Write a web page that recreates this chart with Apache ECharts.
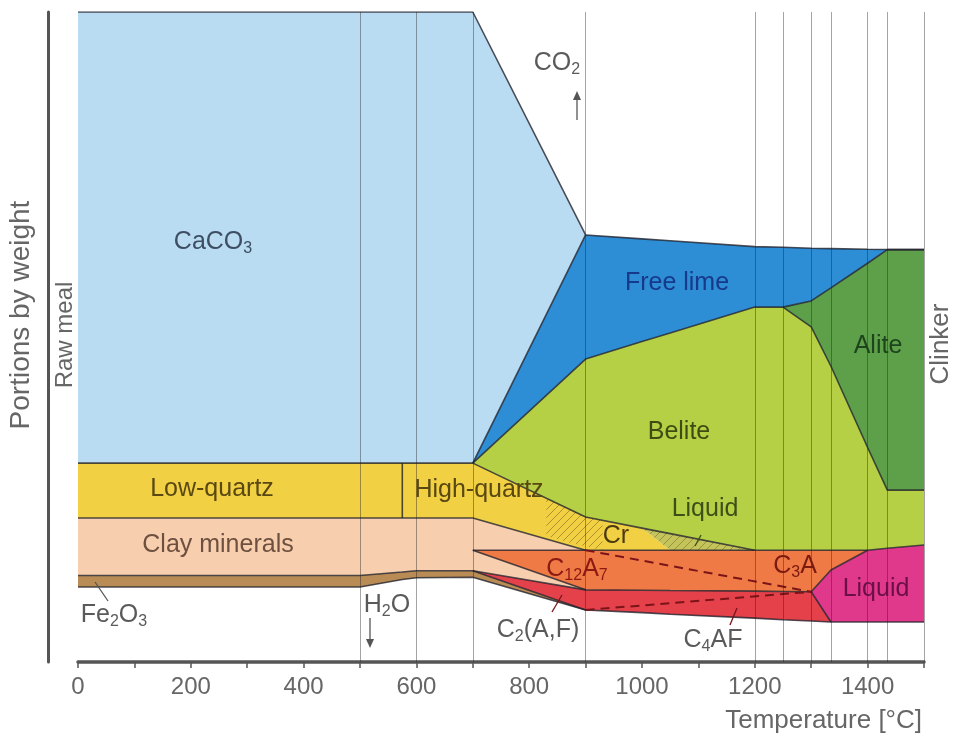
<!DOCTYPE html>
<html><head><meta charset="utf-8">
<script src="https://cdn.jsdelivr.net/npm/echarts@6/dist/echarts.min.js"></script>
<style>html,body{margin:0;padding:0;background:#fff}#c{width:957px;height:737px}</style>
</head><body><div id="c"></div>
<script>
// Temperature breakpoints (°C)
const temps = [0, 500, 575, 600, 700, 900, 1000, 1050, 1200, 1250, 1300, 1335, 1400, 1435, 1500];
// Upper boundary of each phase layer (portion scale 0..100), listed bottom -> top
const bBase      = [11.55, 11.55, 12.7, 12.95, 13.05, 8.0, 7.6, 7.35, 6.75, 6.5, 6.3, 6.15, 6.15, 6.15, 6.15];
const bFe2O3     = [13.3, 13.3, 13.85, 14.05, 14.05, 8.0, 7.6, 7.35, 6.75, 6.5, 6.3, 6.15, 6.15, 6.15, 6.15];
const bC4AF      = [13.3, 13.3, 13.85, 14.05, 14.05, 11.1, 11.05, 11.0, 10.9, 10.85, 10.8, 6.15, 6.15, 6.15, 6.15];
const bLiquidHot = [13.3, 13.3, 13.85, 14.05, 14.05, 11.1, 11.05, 11.0, 10.9, 10.85, 10.8, 14.15, 17.2, 17.5, 18.0];
const bClayLow   = [17.2, 17.2, 17.2, 17.2, 17.2, 11.1, 11.05, 11.0, 10.9, 10.85, 10.8, 14.15, 17.2, 17.5, 18.0];
const bC3A       = [17.2, 17.2, 17.2, 17.2, 17.2, 17.2, 17.2, 17.2, 17.2, 17.2, 17.2, 17.2, 17.2, 17.5, 18.0];
const bClay      = [22.15, 22.15, 22.15, 22.15, 22.15, 17.2, 17.2, 17.2, 17.2, 17.2, 17.2, 17.2, 17.2, 17.5, 18.0];
const bQuartz    = [30.6, 30.6, 30.6, 30.6, 30.6, 22.3, 20.6, 17.2, 17.2, 17.2, 17.2, 17.2, 17.2, 17.5, 18.0];
const bLiquidCr  = [30.6, 30.6, 30.6, 30.6, 30.6, 22.3, 20.6, 19.75, 17.2, 17.2, 17.2, 17.2, 17.2, 17.5, 18.0];
const bBelite    = [30.6, 30.6, 30.6, 30.6, 30.6, 46.6, 49.3, 50.6, 54.6, 54.6, 51.55, 45.5, 33.0, 26.45, 26.45];
const bAlite     = [30.6, 30.6, 30.6, 30.6, 30.6, 46.6, 49.3, 50.6, 54.6, 54.6, 55.55, 57.55, 61.35, 63.45, 63.45];
const bFreeLime  = [30.6, 30.6, 30.6, 30.6, 30.6, 65.7, 65.1, 64.8, 63.9, 63.8, 63.65, 63.6, 63.5, 63.45, 63.45];
const bCaCO3     = [100, 100, 100, 100, 100, 65.7, 65.1, 64.8, 63.9, 63.8, 63.65, 63.6, 63.5, 63.45, 63.45];
// Hatched cristobalite transition zone (temperatures, lower/upper boundaries)
const crHatchTemps = [830, 870, 930];
const crHatchLower = [19.4, 18.4, 17.2];
const crHatchUpper = [25.3, 23.9, 21.8];
// Dashed transition lines (C12A7 -> C3A, C2(A,F) -> C4AF)
const dashC3A  = [[900, 17.2], [1300, 10.8]];
const dashC4AF = [[900, 8.0], [1300, 10.8]];
// Low/high quartz transition temperature
const quartzTransition = 575;
// Vertical guide temperatures
const guideTemps = [500, 600, 700, 900, 1200, 1250, 1300, 1335, 1400, 1435, 1500];
// Tick labels
const xTickLabels = [0, 200, 400, 600, 800, 1000, 1200, 1400];

function hatch(bg, line) {
  const c = document.createElement('canvas'); c.width = 8; c.height = 8;
  const g = c.getContext('2d'); g.fillStyle = bg; g.fillRect(0, 0, 8, 8);
  g.strokeStyle = line; g.lineWidth = 1; g.beginPath();
  g.moveTo(0, 8); g.lineTo(8, 0); g.moveTo(-2, 2); g.lineTo(2, -2); g.moveTo(6, 10); g.lineTo(10, 6);
  g.stroke(); return c;
}

// Phase regions: filled between a lower and an upper boundary (drawn in order)
const layers = [
  { name: 'Fe2O3', t: temps, lower: bBase, upper: bFe2O3, color: '#b98c55' },
  { name: 'C2(A,F) / C4AF', t: temps, lower: bFe2O3, upper: bC4AF, color: '#e4414b' },
  { name: 'Liquid (melt)', t: temps, lower: bC4AF, upper: bLiquidHot, color: '#e0388b' },
  { name: 'Clay minerals', t: temps, lower: bLiquidHot, upper: bClay, color: '#f8cfae' },
  { name: 'C12A7 / C3A', t: temps, lower: bClayLow, upper: bC3A, color: '#f07a46' },
  { name: 'Quartz / Cr', t: temps, lower: bClay, upper: bQuartz, color: '#f1d044' },
  { name: 'Cr hatch', t: crHatchTemps, lower: crHatchLower, upper: crHatchUpper, color: { image: hatch('#f1d044', 'rgba(120,95,20,0.55)'), repeat: 'repeat' } },
  { name: 'Liquid', t: temps, lower: bQuartz, upper: bLiquidCr, color: { image: hatch('#c4c45a', 'rgba(110,110,40,0.55)'), repeat: 'repeat' } },
  { name: 'Belite', t: temps, lower: bLiquidCr, upper: bBelite, color: '#b6d046' },
  { name: 'Alite', t: temps, lower: bBelite, upper: bAlite, color: '#5e9f4a' },
  { name: 'Free lime', t: temps, lower: bAlite, upper: bFreeLime, color: '#2d8dd5' },
  { name: 'CaCO3', t: temps, lower: bFreeLime, upper: bCaCO3, color: '#badcf2' }
];

const series = [{
  type: 'custom', silent: true, z: 1, clip: true,
  data: layers.map((L, i) => [0, 0, i]),
  encode: { x: 0, y: 1 },
  renderItem: function (params, api) {
    const L = layers[params.dataIndex];
    const pts = [];
    L.t.forEach((t, i) => pts.push(api.coord([t, L.upper[i]])));
    for (let i = L.t.length - 1; i >= 0; i--) pts.push(api.coord([L.t[i], L.lower[i]]));
    return { type: 'polygon', shape: { points: pts }, style: { fill: L.color, stroke: null } };
  }
}];

const borderColor = 'rgba(35,35,45,0.8)';
const borders = [
  [bBase, 0, 1500], [bFe2O3, 0, 900], [bC4AF, 700, 1335], [bLiquidHot, 1300, 1500],
  [bClayLow, 700, 900], [bC3A, 700, 1400], [bClay, 0, 900], [bLiquidCr, 0, 1200],
  [bBelite, 700, 1500], [bAlite, 1250, 1500], [bFreeLime, 700, 1500], [bCaCO3, 0, 900]
];
borders.forEach((b, k) => {
  series.push({
    type: 'line', symbol: 'none', silent: true, z: 3,
    lineStyle: { color: borderColor, width: 1.6 },
    data: temps.map((t, i) => [t, b[0][i]]).filter(p => p[0] >= b[1] && p[0] <= b[2]),
    markLine: k === 0 ? {
      silent: true, symbol: ['none', 'none'], label: { show: false }, animation: false,
      lineStyle: { color: 'rgba(30,30,30,0.45)', width: 0.9, type: 'solid' },
      data: guideTemps.map(t => ({ xAxis: t }))
    } : undefined
  });
});
const qi = temps.indexOf(quartzTransition);
series.push({
  type: 'line', symbol: 'none', silent: true, z: 3, lineStyle: { color: borderColor, width: 1.6 },
  data: [[quartzTransition, bClay[qi]], [quartzTransition, bQuartz[qi]]]
});
[dashC3A, dashC4AF].forEach(d => series.push({
  type: 'line', symbol: 'none', silent: true, z: 4,
  lineStyle: { color: '#7a1418', width: 2, type: [9, 6] }, data: d
}));

const FF = '"Liberation Sans", Arial, sans-serif';
function txt(x, y, main, color, size, rot) {
  const s = size || 25;
  return {
    type: 'text', x: x, y: y, rotation: rot || 0, z: 10, silent: true,
    style: {
      text: main, fill: color, fontFamily: FF, fontSize: s,
      align: 'center', verticalAlign: 'middle',
      rich: {
        m: { fontSize: s, fontFamily: FF, fill: color, lineHeight: s + 2, verticalAlign: 'top' },
        s: { fontSize: Math.round(s * 0.62), fontFamily: FF, fill: color, lineHeight: 18, verticalAlign: 'bottom' }
      }
    }
  };
}
const line = (x1, y1, x2, y2, c, w) => ({ type: 'line', z: 10, silent: true, shape: { x1, y1, x2, y2 }, style: { stroke: c || '#555', lineWidth: w || 1.3 } });
const tri = (pts, c) => ({ type: 'polygon', z: 10, silent: true, shape: { points: pts }, style: { fill: c || '#555' } });

const graphics = [
  txt(213, 243, '{m|CaCO}{s|3}', '#3d4e63'),
  txt(677, 284, '{m|Free lime}', '#17398a'),
  txt(878, 347, '{m|Alite}', '#1d451d'),
  txt(679, 433, '{m|Belite}', '#3e4b12'),
  txt(212, 490, '{m|Low-quartz}', '#5a4812'),
  txt(479, 491, '{m|High-quartz}', '#5a4812'),
  txt(616, 537, '{m|Cr}', '#4a3a10'),
  txt(705, 510, '{m|Liquid}', '#3c4f18'),
  txt(218, 546, '{m|Clay minerals}', '#6e5040'),
  txt(577, 570, '{m|C}{s|12}{m|A}{s|7}', '#8a1a12'),
  txt(795, 567, '{m|C}{s|3}{m|A}', '#7a1a10'),
  txt(876, 590, '{m|Liquid}', '#6a0f4a'),
  txt(114, 616, '{m|Fe}{s|2}{m|O}{s|3}', '#5a5a5a'),
  txt(387, 606, '{m|H}{s|2}{m|O}', '#5a5a5a'),
  txt(538, 631, '{m|C}{s|2}{m|(A,F)}', '#5a5a5a'),
  txt(713, 641, '{m|C}{s|4}{m|AF}', '#5a5a5a'),
  txt(557, 64, '{m|CO}{s|2}', '#5a5a5a'),
  txt(22, 315, '{m|Portions by weight}', '#666', 28, Math.PI / 2),
  txt(66, 335, '{m|Raw meal}', '#666', 24, Math.PI / 2),
  txt(942, 344, '{m|Clinker}', '#666', 26, Math.PI / 2),
  { type: 'text', x: 922, y: 721, z: 10, silent: true, style: { text: 'Temperature [°C]', fill: '#666', fontFamily: FF, fontSize: 26, align: 'right', verticalAlign: 'middle' } },
  line(95, 582, 108, 601),
  line(701, 535, 695, 546, '#3c4f18'),
  line(562, 595, 552, 612, '#7a1418'),
  line(737, 608, 730, 625, '#7a1418'),
  line(370, 618, 370, 640), tri([[366, 639], [374, 639], [370, 648]]),
  line(577, 120, 577, 99), tri([[573, 100], [581, 100], [577, 91]])
];

const chart = echarts.init(document.getElementById('c'), null, { renderer: 'canvas' });
chart.setOption({
  animation: false,
  backgroundColor: '#fff',
  grid: { left: 78, right: 33, top: 12, bottom: 75 },
  xAxis: {
    type: 'value', min: 0, max: 1500, interval: 100,
    axisLine: { onZero: false, lineStyle: { color: '#555', width: 3.5 } },
    axisTick: { show: true, length: 6, lineStyle: { color: '#555', width: 1.5 } },
    axisLabel: { color: '#666', fontSize: 24, fontFamily: FF, margin: 13,
      formatter: v => (xTickLabels.indexOf(v) >= 0 ? String(v) : '') },
    splitLine: { show: false }
  },
  yAxis: {
    type: 'value', min: 0, max: 100, offset: 30,
    axisLine: { show: true, onZero: false, lineStyle: { color: '#555', width: 3 } },
    axisTick: { show: false }, axisLabel: { show: false }, splitLine: { show: false }
  },
  series: series,
  graphic: graphics
});
</script></body></html>
